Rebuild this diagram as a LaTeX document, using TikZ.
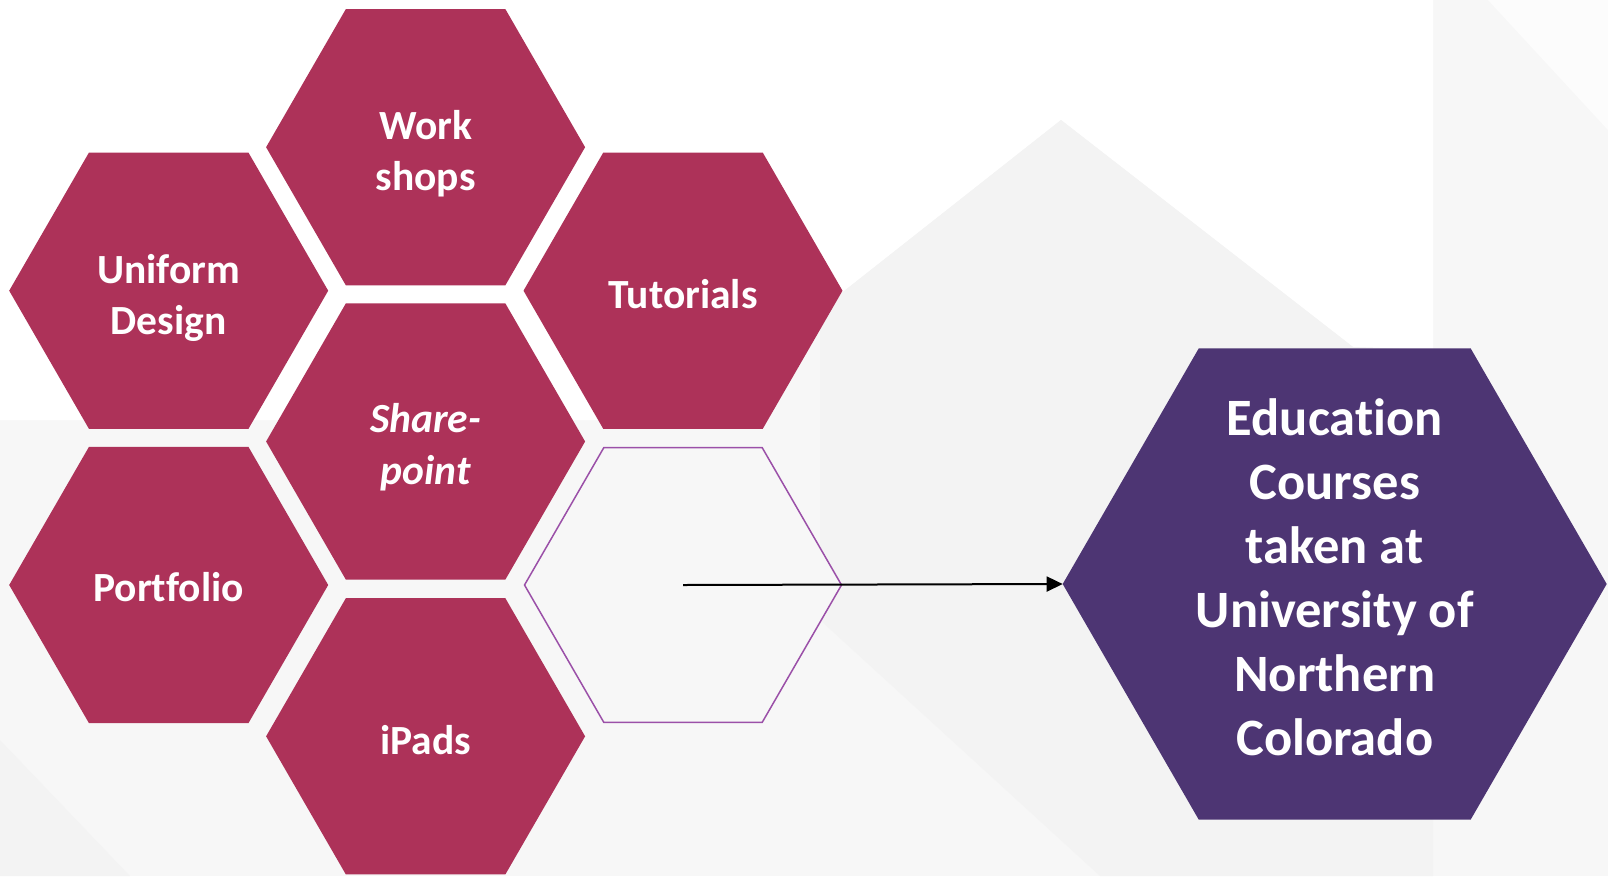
\documentclass[tikz,border=0pt]{standalone}
\usepackage{fontspec}
\setmainfont{Carlito}[Ligatures=NoCommon]
\usetikzlibrary{shapes.geometric,arrows.meta}
\definecolor{hexred}{HTML}{AD3259}
\definecolor{hexpurple}{HTML}{4D3573}
\definecolor{outlinepurple}{HTML}{9B50A8}
\definecolor{bgbase}{HTML}{F7F7F7}
\definecolor{bgdark}{HTML}{F3F3F3}
\begin{document}
\begin{tikzpicture}[x=1pt,y=-1pt,
  hexsmall/.style={shape=regular polygon, regular polygon sides=6, minimum size=319pt,
    inner sep=0pt, outer sep=0pt, fill=hexred},
  hexempty/.style={shape=regular polygon, regular polygon sides=6, minimum size=317pt,
    inner sep=0pt, outer sep=0pt, fill=bgbase, draw=outlinepurple, line width=1.5pt},
  hexbig/.style={shape=regular polygon, regular polygon sides=6, minimum size=544pt,
    inner sep=0pt, outer sep=0pt, fill=hexpurple},
  smalltxt/.style={text=white, align=center, inner sep=0pt,
    font=\fontsize{41.5}{51.5}\selectfont\bfseries},
  bigtxt/.style={text=white, align=center, inner sep=0pt,
    font=\fontsize{52.5}{64}\selectfont\bfseries},
  arrowline/.style={draw=black, line width=2pt, -{Triangle[length=16pt,width=15pt]}}
]
\useasboundingbox (0,0) rectangle (1608,876);
\clip (0,0) rectangle (1608,876);
% background
\fill[bgbase] (0,0) rectangle (1608,876);
\fill[white] (0,0) -- (1433,0) -- (1433,350) -- (1353,347) -- (1061,120) -- (820,310) -- (600,420) -- (0,420) -- cycle;
\fill[bgdark] (1061,120) -- (1353,347) -- (1433,350) -- (1433,876) -- (1100,876) -- (820,620) -- (820,310) -- cycle;
\fill[white!60!bgbase] (1488,0) -- (1608,0) -- (1608,130) -- cycle;
\fill[bgdark] (0,740) -- (130,876) -- (0,876) -- cycle;
% hexagons
\node[hexsmall] (work) at (425.6,147.2) {};
\node[hexsmall] (uniform) at (168.7,290.7) {};
\node[hexsmall] (tutorials) at (683,290.7) {};
\node[hexsmall] (share) at (425.6,441.5) {};
\node[hexsmall] (portfolio) at (168.7,585) {};
\node[hexempty] (empty) at (683,585) {};
\node[hexsmall] (ipads) at (425.6,736.3) {};
\node[hexbig] (edu) at (1334.7,584) {};
% labels
\node[smalltxt] (worklbl) at (425.6,153.7) {Work\\shops};
\node[smalltxt] (uniformlbl) at (168.7,298) {Uniform\\Design};
\node[smalltxt] (tutorialslbl) at (683,294) {Tutorials};
\node[smalltxt] (sharelbl) at (425.6,447.4) {\itshape Share-\\\itshape point};
\node[smalltxt] (portfoliolbl) at (168.7,587.5) {Portfolio};
\node[smalltxt] (ipadslbl) at (425.6,740.5) {iPads};
\node[bigtxt] (edulbl) at (1334.7,577.5) {Education\\Courses~\\taken at\\University of\\Northern\\Colorado};
% connector
\draw[arrowline] (empty.center) -- (edu.west);
\end{tikzpicture}
\end{document}
